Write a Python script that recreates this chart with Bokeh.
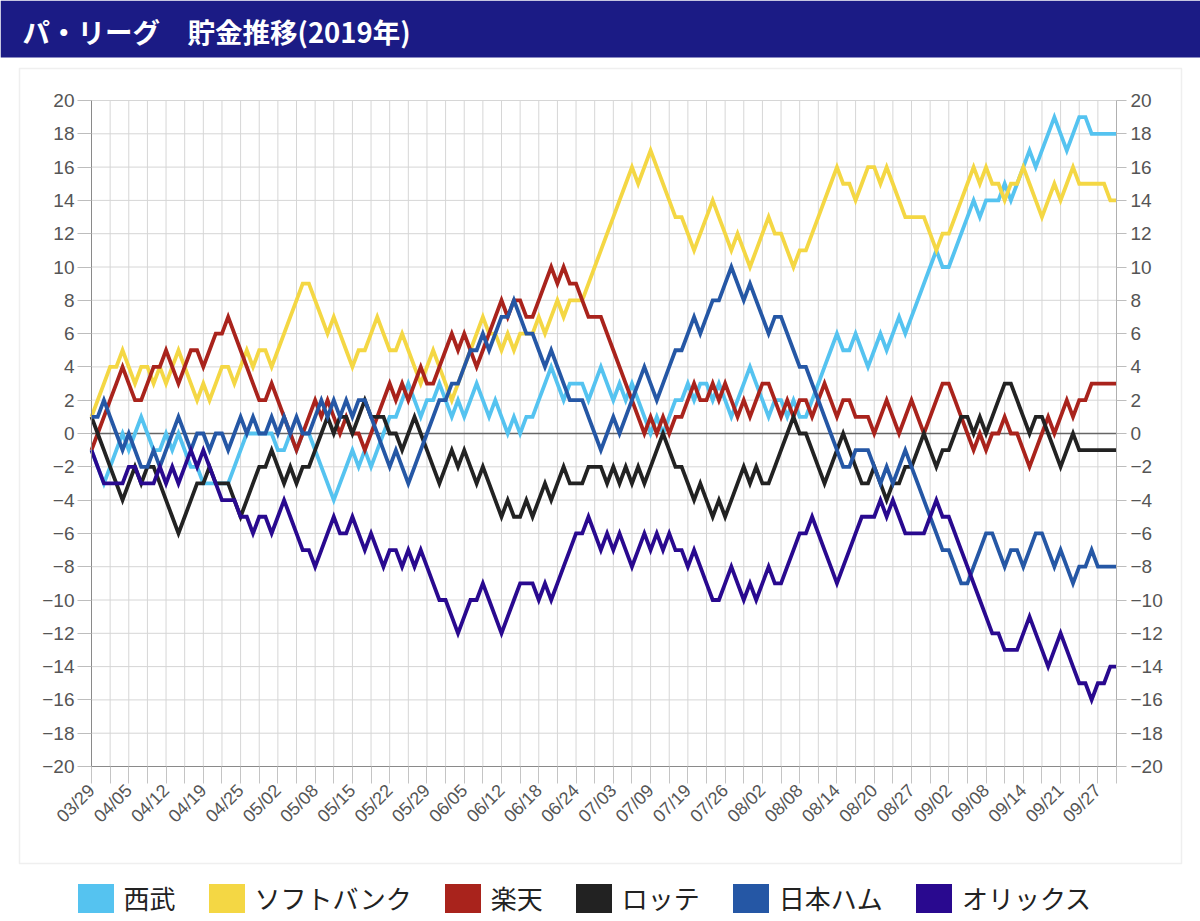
import math
from bokeh.plotting import figure
from bokeh.models import (Range1d, LinearAxis, FixedTicker, Legend, LegendItem,
                          BoxAnnotation, Label)
from bokeh.embed import file_html
from bokeh.resources import INLINE

TITLE = "パ・リーグ\u3000貯金推移(2019年)"
TEAMS = ["西武", "ソフトバンク", "楽天", "ロッテ", "日本ハム", "オリックス"]
COLORS = ["#55c3f0", "#f4d744", "#a9231c", "#222222", "#2557a5", "#29098f"]

TICK_DATES = ["03/29", "04/05", "04/12", "04/19", "04/25", "05/02", "05/08",
              "05/15", "05/22", "05/29", "06/05", "06/12", "06/18", "06/24",
              "07/03", "07/09", "07/19", "07/26", "08/02", "08/08", "08/14",
              "08/20", "08/27", "09/02", "09/08", "09/14", "09/21", "09/27"]
Y_TICKS = list(range(-20, 21, 2))

seibu = [
    -1, -2, -3, -2, -1, 0, -1, 0, 1, 0,
    -1, -1, 0, -1, 0, -1, -2, -2, -3, -3,
    -3, -3, -3, -2, -1, 0, 0, 0, 0, 0,
    -1, -1, 0, -1, 0, 0, -1, -2, -3, -4,
    -3, -2, -1, -2, -1, -2, -1, 0, 1, 1,
    2, 3, 2, 1, 2, 2, 3, 2, 1, 2,
    1, 2, 3, 2, 1, 2, 1, 0, 1, 0,
    1, 1, 2, 3, 4, 3, 2, 3, 3, 3,
    2, 3, 4, 3, 2, 3, 2, 3, 2, 1,
    0, 1, 0, 1, 2, 2, 3, 2, 3, 3,
    2, 3, 2, 1, 2, 3, 4, 3, 2, 1,
    2, 2, 1, 2, 1, 1, 2, 3, 4, 5,
    6, 5, 5, 6, 5, 4, 5, 6, 5, 6,
    7, 6, 7, 8, 9, 10, 11, 10, 10, 11,
    12, 13, 14, 13, 14, 14, 14, 15, 14, 15,
    16, 17, 16, 17, 18, 19, 18, 17, 18, 19,
    19, 18, 18, 18, 18, 18]

softbank = [
    1, 2, 3, 4, 4, 5, 4, 3, 4, 4,
    3, 4, 3, 4, 5, 4, 3, 2, 3, 2,
    3, 4, 4, 3, 4, 5, 4, 5, 5, 4,
    5, 6, 7, 8, 9, 9, 8, 7, 6, 7,
    6, 5, 4, 5, 5, 6, 7, 6, 5, 5,
    6, 5, 4, 3, 4, 5, 4, 3, 2, 3,
    4, 5, 6, 7, 6, 6, 5, 6, 5, 6,
    6, 6, 7, 6, 7, 8, 7, 8, 8, 8,
    9, 10, 11, 12, 13, 14, 15, 16, 15, 16,
    17, 16, 15, 14, 13, 13, 12, 11, 12, 13,
    14, 13, 12, 11, 12, 11, 10, 11, 12, 13,
    12, 12, 11, 10, 11, 11, 12, 13, 14, 15,
    16, 15, 15, 14, 15, 16, 16, 15, 16, 15,
    14, 13, 13, 13, 13, 12, 11, 12, 12, 13,
    14, 15, 16, 15, 16, 15, 15, 14, 15, 15,
    16, 15, 14, 13, 14, 15, 14, 15, 16, 15,
    15, 15, 15, 15, 14, 14]

rakuten = [
    -1, 0, 1, 2, 3, 4, 3, 2, 2, 3,
    4, 4, 5, 4, 3, 4, 5, 5, 4, 5,
    6, 6, 7, 6, 5, 4, 3, 2, 2, 3,
    2, 1, 0, -1, 0, 1, 2, 1, 2, 1,
    0, 1, 0, 0, -1, 0, 1, 2, 3, 2,
    3, 2, 3, 4, 3, 3, 4, 5, 6, 5,
    6, 5, 4, 5, 6, 7, 8, 7, 8, 8,
    7, 7, 8, 9, 10, 9, 10, 9, 9, 8,
    7, 7, 7, 6, 5, 4, 3, 2, 1, 0,
    1, 0, 1, 0, 1, 1, 2, 3, 2, 2,
    3, 2, 3, 2, 1, 2, 1, 2, 3, 3,
    2, 1, 2, 1, 2, 2, 1, 2, 3, 2,
    1, 2, 2, 1, 1, 1, 0, 1, 2, 1,
    0, 1, 2, 1, 0, 1, 2, 3, 3, 2,
    1, 0, -1, 0, -1, 0, 0, 1, 0, 0,
    -1, -2, -1, 0, 1, 0, 1, 2, 1, 2,
    2, 3, 3, 3, 3, 3]

lotte = [
    1, 0, -1, -2, -3, -4, -3, -2, -3, -2,
    -2, -3, -4, -5, -6, -5, -4, -3, -3, -2,
    -3, -3, -3, -4, -5, -4, -3, -2, -2, -1,
    -2, -3, -2, -3, -2, -2, -1, 0, 1, 0,
    1, 1, 0, 1, 2, 1, 1, 1, 0, 0,
    -1, 0, 1, 0, -1, -2, -3, -2, -1, -2,
    -1, -2, -3, -2, -3, -4, -5, -4, -5, -5,
    -4, -5, -4, -3, -4, -3, -2, -3, -3, -3,
    -2, -2, -2, -3, -2, -3, -2, -3, -2, -3,
    -2, -1, 0, -1, -2, -2, -3, -4, -3, -4,
    -5, -4, -5, -4, -3, -2, -3, -2, -3, -3,
    -2, -1, 0, 1, 0, 0, -1, -2, -3, -2,
    -1, 0, -1, -2, -3, -3, -2, -3, -4, -3,
    -3, -2, -2, -1, 0, -1, -2, -1, -1, 0,
    1, 1, 0, 1, 0, 1, 2, 3, 3, 2,
    1, 0, 1, 1, 0, -1, -2, -1, 0, -1,
    -1, -1, -1, -1, -1, -1]

nipponham = [
    1, 1, 2, 1, 0, -1, 0, -1, -2, -2,
    -1, -2, -1, 0, 1, 0, -1, 0, 0, -1,
    0, 0, -1, 0, 1, 0, 1, 0, 0, 1,
    0, 1, 0, 1, 0, 0, 1, 2, 1, 2,
    1, 2, 1, 2, 2, 1, 0, -1, -2, -1,
    -2, -3, -2, -1, 0, 1, 2, 2, 3, 3,
    4, 5, 5, 6, 5, 6, 7, 7, 8, 7,
    6, 6, 5, 4, 5, 4, 3, 2, 2, 2,
    1, 0, -1, 0, 1, 0, 1, 2, 3, 4,
    3, 2, 3, 4, 5, 5, 6, 7, 6, 7,
    8, 8, 9, 10, 9, 8, 9, 8, 7, 6,
    7, 7, 6, 5, 4, 4, 3, 2, 1, 0,
    -1, -2, -2, -1, -1, -1, -2, -3, -2, -3,
    -2, -1, -2, -3, -4, -5, -6, -7, -7, -8,
    -9, -9, -8, -7, -6, -6, -7, -8, -7, -7,
    -8, -7, -6, -6, -7, -8, -7, -8, -9, -8,
    -8, -7, -8, -8, -8, -8]

orix = [
    -1, -2, -3, -3, -3, -3, -2, -2, -3, -3,
    -3, -2, -3, -2, -3, -2, -1, -2, -1, -2,
    -3, -4, -4, -4, -5, -5, -6, -5, -5, -6,
    -5, -4, -5, -6, -7, -7, -8, -7, -6, -5,
    -6, -6, -5, -6, -7, -6, -7, -8, -7, -7,
    -8, -7, -8, -7, -8, -9, -10, -10, -11, -12,
    -11, -10, -10, -9, -10, -11, -12, -11, -10, -9,
    -9, -9, -10, -9, -10, -9, -8, -7, -6, -6,
    -5, -6, -7, -6, -7, -6, -7, -8, -7, -6,
    -7, -6, -7, -6, -7, -7, -8, -7, -8, -9,
    -10, -10, -9, -8, -9, -10, -9, -10, -9, -8,
    -9, -9, -8, -7, -6, -6, -5, -6, -7, -8,
    -9, -8, -7, -6, -5, -5, -5, -4, -5, -4,
    -5, -6, -6, -6, -6, -5, -4, -5, -5, -6,
    -7, -8, -9, -10, -11, -12, -12, -13, -13, -13,
    -12, -11, -12, -13, -14, -13, -12, -13, -14, -15,
    -15, -16, -15, -15, -14, -14]

SERIES = [seibu, softbank, rakuten, lotte, nipponham, orix]
N = max(len(s) for s in SERIES)
X_LAST = N - 1
X_TICKS = list(range(0, N, 3))

JP = "Noto Sans CJK JP"
NUM = "Liberation Sans"
HDR = "#1b1b85"

# ---- page layout (pixels) -> the whole canvas is the plot frame ----
W, H = 1200, 919
PL, PR, PT, PB = 91, 1116, 100, 766          # where the data area sits on the page
SX = (PR - PL) / X_LAST                      # px per category
SY = (PB - PT) / 40.0                        # px per unit
X0 = 0 - PL / SX
X1 = X_LAST + (W - PR) / SX
Y1 = 20 + PT / SY
Y0 = -20 - (H - PB) / SY


def px(xp):
    return X0 + xp / SX


def py(yp):
    return Y1 - yp / SY


p = figure(width=W, height=H, x_range=Range1d(X0, X1), y_range=Range1d(Y0, Y1),
           toolbar_location=None, output_backend="svg", min_border=0,
           outline_line_color=None, background_fill_color="white",
           border_fill_color="white")
p.grid.visible = False

# header bar + title
p.add_layout(BoxAnnotation(left=X0, right=X1, top=Y1, bottom=py(57),
                           fill_color=HDR, fill_alpha=1.0, line_color=None))
p.add_layout(Label(x=px(22), y=py(30), text=TITLE, text_color="white",
                   text_font=JP, text_font_size="27.5px", text_font_style="bold",
                   text_baseline="middle", text_align="left"))

# light container frame
p.add_layout(BoxAnnotation(left=px(19), right=px(1181), top=py(68), bottom=py(863),
                           fill_color=None, line_color="#c9c9c9", line_width=1.5,
                           level="underlay"))

# grid lines (limited to the data area)
p.segment(x0=X_TICKS, x1=X_TICKS, y0=[-20] * len(X_TICKS), y1=[20] * len(X_TICKS),
          line_color="#d6d6d6", line_width=1, level="underlay")
p.segment(x0=[0] * len(Y_TICKS), x1=[X_LAST] * len(Y_TICKS), y0=Y_TICKS, y1=Y_TICKS,
          line_color="#d6d6d6", line_width=1, level="underlay")
p.segment(x0=[0], x1=[X_LAST], y0=[0], y1=[0], line_color="#666666", line_width=1.5,
          level="underlay")

# axes fixed at the edges of the data area
xt = FixedTicker(ticks=X_TICKS)
yt = FixedTicker(ticks=Y_TICKS)

xa = p.xaxis[0]
xa.fixed_location = -20
xa.bounds = (0, X_LAST)
xa.ticker = xt
xa.major_label_overrides = {i: (TICK_DATES[i // 6] if i % 6 == 0 and i // 6 < len(TICK_DATES) else "")
                            for i in X_TICKS}
xa.major_label_orientation = math.pi / 4
xa.major_label_text_font = NUM
xa.major_label_text_font_size = "18px"
xa.major_label_text_color = "#555555"
xa.major_label_standoff = 4
xa.major_tick_out = 17
xa.major_tick_in = 0
xa.minor_tick_line_color = None
xa.major_tick_line_color = "#c4c4c4"
xa.axis_line_color = "#8a8a8a"

ya = p.yaxis[0]
ya.fixed_location = 0
ya.bounds = (-20, 20)
ya.ticker = yt
ya.major_label_text_font = NUM
ya.major_label_text_font_size = "19px"
ya.major_label_text_color = "#555555"
ya.major_label_standoff = 3
ya.major_tick_out = 14
ya.major_tick_in = 0
ya.minor_tick_line_color = None
ya.major_tick_line_color = "#bdbdbd"
ya.axis_line_color = "#8a8a8a"

ry = LinearAxis(ticker=yt, fixed_location=X_LAST, bounds=(-20, 20),
                major_label_text_font=NUM, major_label_text_font_size="19px",
                major_label_text_color="#555555", major_label_standoff=4,
                major_tick_out=10, major_tick_in=0, minor_tick_line_color=None,
                major_tick_line_color="#bdbdbd", axis_line_color="#b0b0b0")
p.add_layout(ry, "right")

# series
for name, color, vals in zip(TEAMS, COLORS, SERIES):
    p.line(x=list(range(len(vals))), y=vals, line_color=color, line_width=3.8,
           line_join="miter")

# legend (square swatches; zero-size quads only carry the colour)
items = []
for name, color in zip(TEAMS, COLORS):
    r = p.quad(left=[0], right=[0], top=[0], bottom=[0], fill_color=color,
               line_color=None)
    items.append(LegendItem(label=name, renderers=[r]))

legend = Legend(items=items, orientation="horizontal", location=(72.5, 3),
                glyph_width=45, glyph_height=36, label_standoff=6, spacing=28,
                padding=0, margin=0, border_line_color=None, background_fill_alpha=0,
                label_text_font=JP, label_text_font_size="26px",
                label_text_color="#222222", label_text_baseline="middle")
p.add_layout(legend)

open("out.html", "w").write(file_html(p, INLINE))
